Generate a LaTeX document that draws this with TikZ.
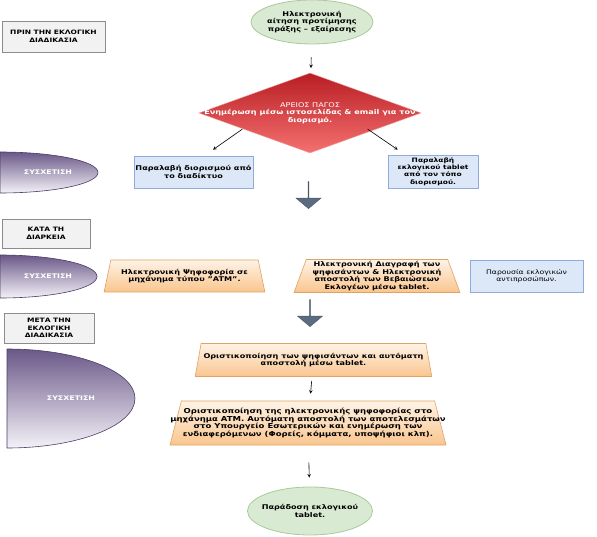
\documentclass[tikz,border=0pt]{standalone}
\usepackage{fontspec}
\setmainfont[FakeStretch=1.25]{DejaVu Sans}
\usetikzlibrary{shapes.geometric, shapes.arrows, arrows}
\usepackage{xcolor}

\definecolor{phasefill}{HTML}{F2F2F2}
\definecolor{phaseline}{HTML}{8C8C8C}
\definecolor{greenfill}{HTML}{D9EAD3}
\definecolor{greenline}{HTML}{A9C99A}
\definecolor{redtop}{HTML}{B81E24}
\definecolor{redbot}{HTML}{F57070}
\definecolor{redline}{HTML}{F0A0A0}
\definecolor{bluefill}{HTML}{DCE8F8}
\definecolor{blueline}{HTML}{8FAADC}
\definecolor{peachtop}{HTML}{FEF3E6}
\definecolor{peachbot}{HTML}{FAC58E}
\definecolor{peachline}{HTML}{DDA463}
\definecolor{purpletop}{HTML}{6A5888}
\definecolor{purplebot}{HTML}{F4F2F8}
\definecolor{purpleline}{HTML}{4A3C63}
\definecolor{slate}{HTML}{5B6B80}

\begin{document}
\begin{tikzpicture}[x=1pt, y=-1pt, font=\fontsize{6.5}{7.5}\selectfont\bfseries]
\tikzstyle{phase} = [rectangle, minimum width=90pt, minimum height=30pt, inner sep=1pt, align=center, draw=phaseline, fill=phasefill, line width=0.8pt, font=\fontsize{6}{7.5}\selectfont\bfseries]
\tikzstyle{startstop} = [ellipse, inner sep=-4pt, align=center, draw=greenline, fill=greenfill, line width=0.8pt]
\tikzstyle{decision} = [diamond, minimum width=222pt, minimum height=80pt, inner sep=0pt, draw=redline, top color=redtop, bottom color=redbot]
\tikzstyle{process} = [rectangle, minimum height=32pt, inner sep=1pt, align=center, draw=blueline, fill=bluefill, line width=0.6pt]
\tikzstyle{io} = [trapezium, trapezium left angle=70, trapezium right angle=70, trapezium stretches=true, inner sep=1pt, align=center, draw=peachline, top color=peachtop, bottom color=peachbot, line width=0.6pt]
\tikzstyle{link} = [draw=purpleline, top color=purpletop, bottom color=purplebot, line width=0.6pt]
\tikzstyle{linktext} = [text=white, font=\fontsize{6.3}{7}\selectfont\bfseries]
\tikzstyle{bigarrow} = [single arrow, shape border rotate=270, minimum height=27pt, minimum width=25pt, single arrow head extend=8pt, single arrow tip angle=100, inner sep=0pt, fill=slate, draw=slate!80!black]
\tikzstyle{arrow} = [semithick,->,>=stealth]

\useasboundingbox (0,0) rectangle (597,537);

% phases
\node (before) [phase, minimum width=103pt, minimum height=31pt] at (53.5,36.5) {ΠΡΙΝ ΤΗΝ ΕΚΛΟΓΙΚΗ\\ΔΙΑΔΙΚΑΣΙΑ};
\node (during) [phase, minimum width=88pt, minimum height=29pt] at (46,233.5) {ΚΑΤΑ ΤΗ\\ΔΙΑΡΚΕΙΑ};
\node (after) [phase] at (49,328) {ΜΕΤΑ ΤΗΝ\\ΕΚΛΟΓΙΚΗ\\ΔΙΑΔΙΚΑΣΙΑ};

% links
\path [link] (0,152) arc[start angle=-90, end angle=90, x radius=98, y radius=20.5] -- cycle;
\node (link1) [linktext] at (48,172.5) {ΣΥΣΧΕΤΙΣΗ};
\path [link] (0,255) arc[start angle=-90, end angle=90, x radius=97, y radius=21.5] -- cycle;
\node (link2) [linktext] at (48,276.5) {ΣΥΣΧΕΤΙΣΗ};
\path [link] (7,349) arc[start angle=-90, end angle=90, x radius=128, y radius=49.5] -- cycle;
\node (link3) [linktext] at (71,398.5) {ΣΥΣΧΕΤΙΣΗ};

% main flow
\node (req) [startstop, minimum width=122pt, minimum height=44pt] at (312,22) {Ηλεκτρονική\\αίτηση προτίμησης\\πράξης – εξαίρεσης};
\node (court) [decision, label={[text=white, align=center, font=\fontsize{6.5}{7.5}\selectfont]center:ΑΡΕΙΟΣ ΠΑΓΟΣ\\\textbf{Ενημέρωση μέσω ιστοσελίδας \& email για τον}\\\textbf{διορισμό.}}] at (310,113) {};
\node (web) [process, minimum width=119pt] at (193.5,172) {Παραλαβή διορισμού από\\το διαδίκτυο};
\node (pickup) [process, minimum width=90pt, minimum height=33pt, font=\fontsize{6}{7.3}\selectfont\bfseries] at (433,171.5) {Παραλαβή\\εκλογικού tablet\\από τον τόπο\\διορισμού.};
\node (down1) [bigarrow] at (308.5,195) {};

\node (vote) [io, minimum width=161pt, minimum height=32pt] at (184.5,276) {Ηλεκτρονική Ψηφοφορία σε\\μηχάνημα τύπου "ATM".};
\node (erase) [io, minimum width=166pt, minimum height=33pt] at (377,276) {Ηλεκτρονική Διαγραφή των\\ψηφισάντων \& Ηλεκτρονική\\αποστολή των Βεβαιώσεων\\Εκλογέων μέσω tablet.};
\node (agents) [process, minimum width=113pt, font=\fontsize{6.2}{7.5}\selectfont] at (526.5,276) {Παρουσία εκλογικών\\αντιπροσώπων.};
\node (down2) [bigarrow] at (310,313) {};

\node (final1) [io, minimum width=237pt, minimum height=33pt] at (313.5,360) {Οριστικοποίηση των ψηφισάντων και αυτόματη\\αποστολή μέσω tablet.};
\node (final2) [io, minimum width=258pt, minimum height=44pt, inner xsep=-11pt, font=\fontsize{6.8}{7.5}\selectfont\bfseries] at (308,423) {Οριστικοποίηση της ηλεκτρονικής ψηφοφορίας στο\\μηχάνημα ATM. Αυτόματη αποστολή των αποτελεσμάτων\\στο Υπουργείο Εσωτερικών και ενημέρωση των\\ενδιαφερόμενων (Φορείς, κόμματα, υποψήφιοι κλπ).};
\node (handover) [startstop, minimum width=124pt, minimum height=48pt] at (310,511) {Παράδοση εκλογικού\\tablet.};

\draw [arrow, shorten <=13pt, shorten >=5pt] (req) -- (court);
\draw [arrow] ([xshift=-12pt,yshift=4pt]court.south west) -- ([xshift=19.5pt,yshift=6pt]web.north);
\draw [arrow] ([xshift=2pt,yshift=4pt]court.south east) -- ([xshift=10pt,yshift=5pt]pickup.north west);
\draw [arrow, shorten <=4pt, shorten >=7pt] (final1) -- (final2);
\draw [arrow, shorten <=17pt, shorten >=9pt] (final2) -- (handover);
\end{tikzpicture}
\end{document}
